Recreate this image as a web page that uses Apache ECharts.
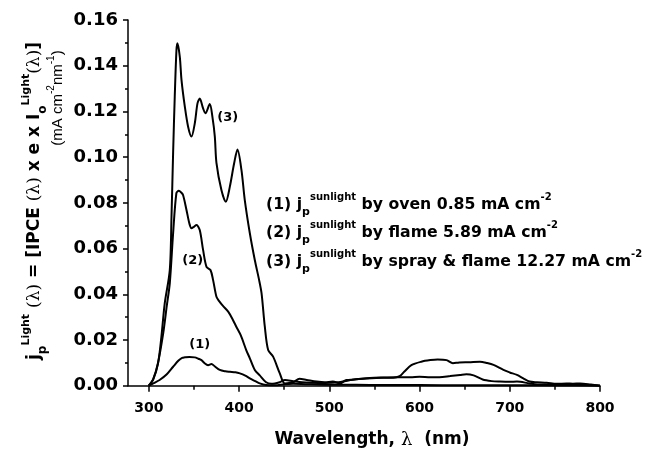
<!DOCTYPE html>
<html>
<head>
<meta charset="utf-8">
<script src="https://cdn.jsdelivr.net/npm/echarts@6/dist/echarts.min.js"></script>
<style>
html,body{margin:0;padding:0;background:#fff;}
#chart{width:646px;height:452px;}
</style>
</head>
<body>
<div id="chart"></div>
<script>
// ---- data ----
const wl1 = [300, 305, 312, 320, 327, 333, 337, 340, 345, 351, 355, 358.4, 362, 365.7, 369.5, 373, 378.7, 385, 390, 396, 401, 407, 412, 418, 423, 430, 440, 450, 460, 480, 500, 530, 560, 600, 650, 700, 750, 800];
const j1 = [0, 0.001, 0.0025, 0.005, 0.0083, 0.011, 0.0122, 0.0124, 0.0126, 0.0124, 0.0118, 0.0112, 0.0098, 0.009, 0.0095, 0.0085, 0.0069, 0.0063, 0.0061, 0.0059, 0.0054, 0.0044, 0.0032, 0.002, 0.001, 0.0003, 0.0002, 0.0006, 0.0008, 0.0006, 0.0004, 0.0004, 0.0003, 0.0003, 0.0002, 0.0002, 0.0001, 0];

const wl2 = [300, 305, 310, 316, 320, 323.3, 327, 330.6, 333.3, 336, 338, 341.8, 345, 347.3, 350, 352.9, 356.5, 360.2, 364, 368.4, 371.3, 375, 378, 382, 388, 393, 397, 402, 408, 412, 417.5, 423, 430, 436, 445, 451, 460, 470, 480, 495, 510, 520, 530, 545, 560, 575, 590, 600, 612, 622, 634, 645, 652, 660, 670, 680, 689, 700, 708, 722, 735, 750, 770, 785, 800];
const j2 = [0, 0.003, 0.0095, 0.0229, 0.035, 0.0448, 0.0667, 0.0842, 0.0853, 0.0845, 0.0834, 0.0769, 0.071, 0.0689, 0.0695, 0.0703, 0.0681, 0.0594, 0.052, 0.0506, 0.0462, 0.0389, 0.037, 0.035, 0.0324, 0.029, 0.0258, 0.022, 0.0156, 0.012, 0.0069, 0.0045, 0.0015, 0.0008, 0.0015, 0.0025, 0.002, 0.0015, 0.0013, 0.0012, 0.0015, 0.0022, 0.0028, 0.0034, 0.0036, 0.0037, 0.0037, 0.0039, 0.0037, 0.0037, 0.0042, 0.0047, 0.005, 0.0045, 0.0027, 0.002, 0.0018, 0.0017, 0.0018, 0.001, 0.0005, 0.0005, 0.0006, 0.0003, 0];

const wl3 = [300, 304.8, 310.3, 314, 317.7, 323.3, 325.2, 327, 328.8, 330.7, 331.8, 334.4, 336.3, 340, 343.6, 347.3, 351, 354, 356.5, 360.2, 362.8, 367.6, 370.5, 373.2, 375, 380.5, 385.4, 389.8, 394.6, 398.3, 402.7, 406.4, 412, 417.5, 422.3, 425, 428.6, 432.3, 437.8, 445.2, 450.8, 460, 467, 475, 486, 495, 504, 512, 519, 527, 541, 560, 571, 578, 583, 591, 602, 612, 620, 630, 637, 644, 655, 667, 675, 682, 693, 700, 708, 715, 722, 730, 741, 752, 763, 770, 778, 790, 800];
const j3 = [0, 0.0025, 0.0098, 0.0214, 0.036, 0.0506, 0.0739, 0.102, 0.1264, 0.1468, 0.1498, 0.1439, 0.1337, 0.122, 0.1133, 0.109, 0.1148, 0.1235, 0.1257, 0.1213, 0.1192, 0.1232, 0.1177, 0.109, 0.0975, 0.0856, 0.0805, 0.087, 0.0973, 0.1033, 0.0944, 0.0812, 0.0667, 0.055, 0.0462, 0.0404, 0.0258, 0.0156, 0.0127, 0.0054, 0.001, 0.0015, 0.003, 0.0025, 0.0018, 0.0015, 0.0018, 0.001, 0.0025, 0.0027, 0.0032, 0.0035, 0.0035, 0.0042, 0.0061, 0.009, 0.0105, 0.0112, 0.0115, 0.0112, 0.0098, 0.0102, 0.0103, 0.0105, 0.0099, 0.0091, 0.0069, 0.0058, 0.0047, 0.0032, 0.0018, 0.0015, 0.0013, 0.0008, 0.001, 0.0009, 0.001, 0.0005, 0];

const curveNames = ['(1)', '(2)', '(3)'];
// data-space anchor of each curve's "(n)" tag
const curveTagAt = [[356.5, 0.0178], [348.8, 0.0546], [387.6, 0.1171]];

const xMajorTicks = [300, 400, 500, 600, 700, 800];
const xMinorTicks = [350, 450, 550, 650, 750];
const legendLines = [
  ['(1)', 'by oven 0.85 mA cm'],
  ['(2)', 'by flame 5.89 mA cm'],
  ['(3)', 'by spray & flame 12.27 mA cm']
];

// ---- chart ----
const FONT = 'DejaVu Sans';
const zip = (a, b) => a.map((x, i) => [x, b[i]]);
const seriesData = [zip(wl1, j1), zip(wl2, j2), zip(wl3, j3)];

const chart = echarts.init(document.getElementById('chart'), null, {renderer: 'canvas'});

const series = seriesData.map((d, i) => ({
  type: 'line',
  name: curveNames[i],
  data: d,
  xAxisIndex: 0,
  yAxisIndex: 0,
  showSymbol: false,
  smooth: 0.3,
  lineStyle: {color: '#000', width: 2},
  itemStyle: {color: '#000'},
  z: 3,
  markPoint: {
    symbol: 'circle',
    symbolSize: 1,
    itemStyle: {color: 'rgba(0,0,0,0)'},
    label: {
      show: true, position: 'inside', formatter: curveNames[i],
      color: '#000', fontFamily: FONT, fontWeight: 'bold', fontSize: 13
    },
    data: [{coord: curveTagAt[i]}]
  }
}));

const supStyle = {fontFamily: FONT, fontWeight: 'bold', fontSize: 10, verticalAlign: 'top', lineHeight: 12};
const subStyle = {fontFamily: FONT, fontWeight: 'bold', fontSize: 11, verticalAlign: 'bottom', lineHeight: 12};
const legendY = [205, 233, 262];

const graphics = legendLines.map((l, i) => ({
  type: 'text',
  x: 266,
  y: legendY[i],
  style: {
    text: l[0] + ' j{sub|p}{sup|sunlight} ' + l[1] + '{sup|-2}',
    fontFamily: FONT, fontWeight: 'bold', fontSize: 15.7, lineHeight: 26,
    fill: '#000', align: 'left', verticalAlign: 'middle',
    rich: {sup: supStyle, sub: subStyle}
  }
}));

// y-axis title, two rotated lines
graphics.push({
  type: 'text', x: 35, y: 201, rotation: Math.PI / 2,
  style: {
    text: 'j{sub|p}{sup|Light} {lam|(λ)} = [IPCE {lam|(λ)} x e x I{sub|o}{sup|Light}{lam|(λ)}]',
    fontFamily: FONT, fontWeight: 'bold', fontSize: 17, lineHeight: 28,
    fill: '#000', align: 'center', verticalAlign: 'middle',
    rich: {
      sup: {fontFamily: FONT, fontWeight: 'bold', fontSize: 11, verticalAlign: 'top', lineHeight: 13},
      sub: {fontFamily: FONT, fontWeight: 'bold', fontSize: 12, verticalAlign: 'bottom', lineHeight: 13},
      lam: {fontFamily: 'DejaVu Serif', fontWeight: 'normal', fontSize: 17, lineHeight: 28}
    }
  }
});
graphics.push({
  type: 'text', x: 58, y: 98, rotation: Math.PI / 2,
  style: {
    text: '(mA cm{sup|-2}nm{sup|-1})',
    fontFamily: 'Liberation Sans', fontWeight: 'normal', fontSize: 15, lineHeight: 23,
    fill: '#000', align: 'center', verticalAlign: 'middle',
    rich: {sup: {fontFamily: 'Liberation Sans', fontSize: 10, verticalAlign: 'top', lineHeight: 11}}
  }
});
// x-axis title
graphics.push({
  type: 'text', x: 372, y: 440,
  style: {
    text: 'Wavelength, {lam|λ}  (nm)',
    fontFamily: FONT, fontWeight: 'bold', fontSize: 17, lineHeight: 22,
    fill: '#000', align: 'center', verticalAlign: 'middle',
    rich: {lam: {fontFamily: 'DejaVu Serif', fontWeight: 'normal', fontSize: 18, lineHeight: 22}}
  }
});

const axisLineStyle = {color: '#000', width: 1.5};
const option = {
  animation: false,
  backgroundColor: '#fff',
  grid: {left: 128, right: 46, top: 20, bottom: 66.3, containLabel: false},
  xAxis: [
    {
      type: 'value', min: 277, max: 800, position: 'bottom',
      axisLine: {show: true, lineStyle: axisLineStyle},
      splitLine: {show: false},
      axisTick: {show: true, customValues: xMajorTicks, length: 6, inside: false, lineStyle: axisLineStyle},
      axisLabel: {
        show: true, customValues: xMajorTicks, margin: 16, color: '#000',
        fontFamily: FONT, fontWeight: 'bold', fontSize: 14
      }
    },
    {
      type: 'value', min: 277, max: 800, position: 'bottom',
      axisLine: {show: false},
      splitLine: {show: false},
      axisTick: {show: true, customValues: xMinorTicks, length: 4, inside: false, lineStyle: axisLineStyle},
      axisLabel: {show: false}
    }
  ],
  yAxis: {
    type: 'value', min: 0, max: 0.16, interval: 0.02,
    axisLine: {show: true, lineStyle: axisLineStyle},
    splitLine: {show: false},
    axisTick: {show: true, length: 5, inside: false, lineStyle: axisLineStyle},
    minorTick: {show: true, splitNumber: 2, length: 3, lineStyle: axisLineStyle},
    axisLabel: {
      margin: 10, color: '#000', fontFamily: FONT, fontWeight: 'bold', fontSize: 18,
      formatter: v => v.toFixed(2)
    }
  },
  series: series,
  graphic: graphics
};
chart.setOption(option);
</script>
</body>
</html>
